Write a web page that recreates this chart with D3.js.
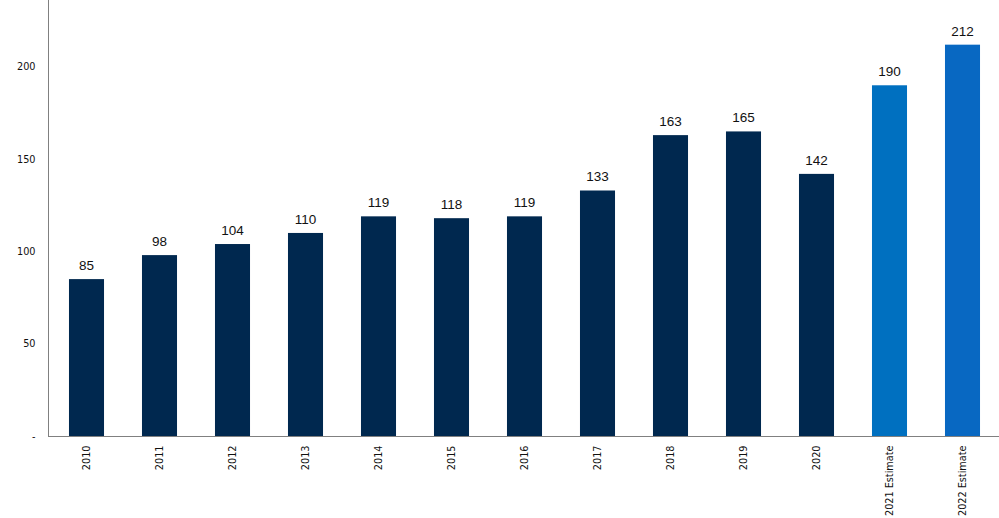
<!DOCTYPE html>
<html>
<head>
<meta charset="utf-8">
<script src="https://cdn.jsdelivr.net/npm/d3@7"></script>
<style>
  html, body { margin: 0; padding: 0; background: #fff; }
  svg { display: block; }
</style>
</head>
<body>
<svg id="chart" width="999" height="518"></svg>
<script>
const categories = ["2010","2011","2012","2013","2014","2015","2016","2017","2018","2019","2020","2021 Estimate","2022 Estimate"];
const values = [85, 98, 104, 110, 119, 118, 119, 133, 163, 165, 142, 190, 212];
const barColors = ["#00284F","#00284F","#00284F","#00284F","#00284F","#00284F","#00284F","#00284F","#00284F","#00284F","#00284F","#0070C0","#0868C2"];
const yTicks = [0, 50, 100, 150, 200];
const yTickLabels = ["-", "50", "100", "150", "200"];

const svg = d3.select("#chart");
const x = d3.scaleBand().domain(categories).range([50, 999]).paddingInner(0.52).paddingOuter(0.26);
const y = d3.scaleLinear().domain([0, 236.2]).range([436, 0]);

// bars
svg.append("g").selectAll("rect").data(values).join("rect")
  .attr("x", (d, i) => x(categories[i]))
  .attr("width", x.bandwidth())
  .attr("y", d => y(d))
  .attr("height", d => y(0) - y(d))
  .attr("fill", (d, i) => barColors[i]);

// value labels
svg.append("g").selectAll("text").data(values).join("text")
  .attr("x", (d, i) => x(categories[i]) + x.bandwidth() / 2)
  .attr("y", d => y(d) - 9)
  .attr("text-anchor", "middle")
  .attr("font-family", "Liberation Sans, Arial, sans-serif")
  .attr("font-size", 13.5)
  .attr("fill", "#111")
  .text(d => d);

// y axis
const yAxis = d3.axisLeft(y).tickValues(yTicks).tickSize(0).tickPadding(13)
  .tickFormat((d, i) => yTickLabels[i]);
const gy = svg.append("g").attr("transform", "translate(48.5,0)").call(yAxis);
gy.select(".domain").remove();
gy.selectAll("text").attr("font-family", "DejaVu Sans, sans-serif").attr("font-size", 9.7).attr("fill", "#111");
svg.append("line").attr("x1", 48.5).attr("x2", 48.5).attr("y1", 0).attr("y2", y(0))
  .attr("stroke", "#808080").attr("stroke-width", 1);

// x axis
const xAxis = d3.axisBottom(x).tickSize(0).tickPadding(0);
const gx = svg.append("g").attr("transform", "translate(0," + (y(0) + 0.5) + ")").call(xAxis);
gx.select(".domain").remove();
gx.selectAll("text")
  .attr("font-family", "DejaVu Sans, sans-serif").attr("font-size", 9.7).attr("fill", "#111")
  .attr("text-anchor", "end")
  .attr("transform", "translate(0,9) rotate(-90)")
  .attr("x", 0).attr("y", 0).attr("dy", "0.35em").attr("dx", 0);
svg.append("line").attr("x1", 48).attr("x2", 999).attr("y1", y(0) + 0.5).attr("y2", y(0) + 0.5)
  .attr("stroke", "#808080").attr("stroke-width", 1);
</script>
</body>
</html>
